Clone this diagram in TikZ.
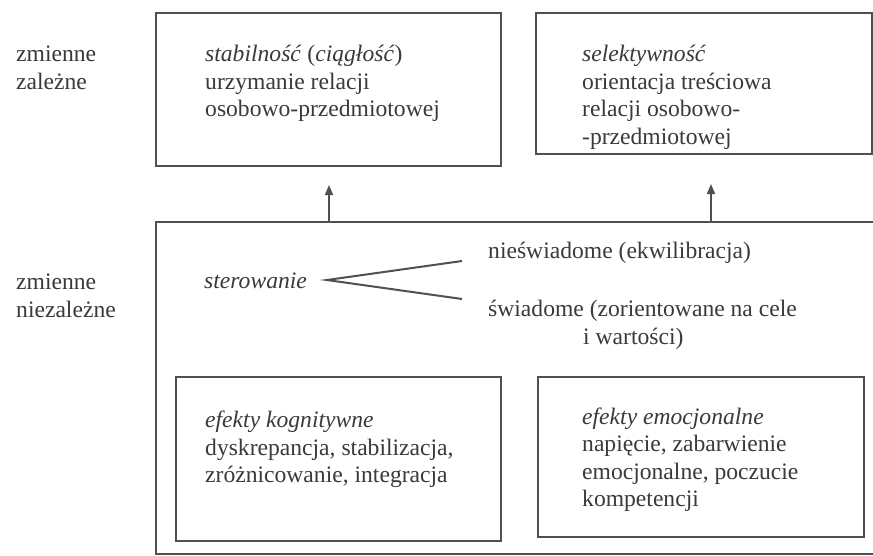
\documentclass[tikz,border=0pt]{standalone}
\usepackage{fontspec}
\setmainfont{Liberation Serif}
\usetikzlibrary{arrows.meta}
\definecolor{ln}{HTML}{505050}
\definecolor{tx}{HTML}{3A3A3A}
\begin{document}
\begin{tikzpicture}[x=1pt,y=-1pt,
  box/.style={draw=ln, line width=2pt, inner sep=0pt, anchor=north west},
  txt/.style={anchor=north west, inner sep=0pt, align=left, text=tx,
    font=\fontsize{23.6}{27.4}\selectfont},
  arr/.style={draw=ln, line width=1.6pt, -{Triangle[width=8pt,length=10pt]}},
  fork/.style={draw=ln, line width=2pt}]
\useasboundingbox[fill=white] (0,0) rectangle (873,555);
% boxes
\node[box, minimum width=345pt, minimum height=153pt] (tl) at (155,12) {};
\node[box, minimum width=336pt, minimum height=141pt] (tr) at (535,12) {};
\node[box, minimum width=740pt, minimum height=332pt] (big) at (155,221) {};
\node[box, minimum width=325pt, minimum height=164pt] (bl) at (175,376) {};
\node[box, minimum width=326pt, minimum height=160pt] (br) at (537,376) {};
% texts
\node[txt] (zz) at (16,42.5) {\strut zmienne\\zależne};
\node[txt] (zn) at (16,270.5) {\strut zmienne\\niezależne};
\node[txt] (tlt) at (205,42.5) {\strut\textit{stabilność} (\textit{ciągłość})\\urzymanie relacji\\osobowo-przedmiotowej};
\node[txt] (trt) at (582,42.5) {\strut\textit{selektywność}\\orientacja treściowa\\relacji osobowo-\\-przedmiotowej};
\node[txt] (ster) at (204,269.5) {\strut\textit{sterowanie}};
\node[txt] (nsw) at (488,239.5) {\strut nieświadome (ekwilibracja)};
\node[txt] (sw) at (488,297.5) {\strut świadome (zorientowane na cele\\\hspace*{95pt}i wartości)};
\node[txt] (blt) at (205,408.5) {\strut\textit{efekty kognitywne}\\dyskrepancja, stabilizacja,\\zróżnicowanie, integracja};
\node[txt] (brt) at (582,405) {\strut\textit{efekty emocjonalne}\\napięcie, zabarwienie\\emocjonalne, poczucie\\kompetencji};
% fork
\coordinate (fv) at (327,280);
\coordinate (fu) at (462,261);
\coordinate (fd) at (462,299);
\draw[fork] (fu) -- (fv) -- (fd);
% arrows
\coordinate (a1) at (329,185);
\coordinate (a2) at (711,184);
\draw[arr] (big.north -| a1) -- (a1);
\draw[arr] (big.north -| a2) -- (a2);
\end{tikzpicture}
\end{document}
